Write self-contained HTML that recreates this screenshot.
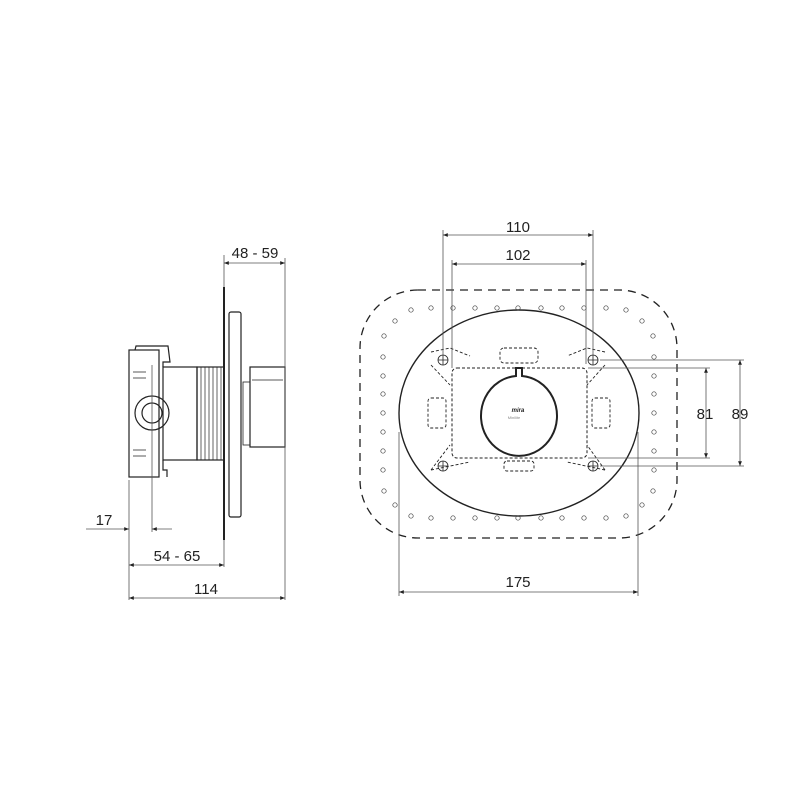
<!DOCTYPE html>
<html><head><meta charset="utf-8"><style>html,body{margin:0;background:#fff}svg{display:block}text{font-family:"Liberation Sans",sans-serif;font-size:15px;fill:#222}</style></head>
<body>
<svg width="800" height="800" viewBox="0 0 800 800" xmlns="http://www.w3.org/2000/svg">
<defs>
<marker id="a" viewBox="0 0 10 10" refX="10" refY="5" markerWidth="8" markerHeight="6" orient="auto-start-reverse"><path d="M0,1 L10,5 L0,9 z" fill="#222"/></marker>
</defs>
<g stroke="#222" fill="none">
<!-- LEFT VIEW -->
<g stroke-width="1.2">
<rect x="129" y="350" width="30" height="127" fill="#fff"/>
<path d="M135,350 L136,346 L168,346 L170,362 L163,362 L163,367"/>
<rect x="163" y="367" width="34" height="93"/>
<path d="M163,460 L163,470 L167,470 L167,477"/>
<rect x="197" y="367" width="27" height="93"/>
<path d="M201,367V460M205,367V460M209,367V460M213,367V460M217,367V460M221,367V460" stroke-width="0.7"/>
<line x1="224" y1="287" x2="224" y2="540" stroke-width="2"/>
<rect x="229" y="312" width="12" height="205" rx="2"/>
<rect x="243" y="382" width="7" height="63" stroke-width="0.8"/>
<rect x="250" y="367" width="35" height="80"/>
<line x1="252" y1="380" x2="283" y2="380" stroke-width="0.7"/>
<circle cx="152" cy="413" r="17"/>
<circle cx="152" cy="413" r="10"/>
<path d="M133,372H146M133,378H146M133,450H146M133,456H146" stroke-width="0.8"/>
</g>
<!-- left dims -->
<g stroke-width="0.8" stroke="#555">
<line x1="152" y1="365" x2="152" y2="532"/>
<line x1="129" y1="480" x2="129" y2="600"/>
<line x1="285" y1="258" x2="285" y2="600"/>
<line x1="224" y1="255" x2="224" y2="287"/>
<line x1="224" y1="540" x2="224" y2="567"/>
<line x1="224" y1="263" x2="285" y2="263" marker-start="url(#a)" marker-end="url(#a)"/>
<line x1="86" y1="529" x2="129" y2="529" marker-end="url(#a)"/>
<line x1="172" y1="529" x2="152" y2="529" marker-end="url(#a)"/>
<line x1="129" y1="565" x2="224" y2="565" marker-start="url(#a)" marker-end="url(#a)"/>
<line x1="129" y1="598" x2="285" y2="598" marker-start="url(#a)" marker-end="url(#a)"/>
</g>
<!-- RIGHT VIEW -->
<rect x="360" y="290" width="317" height="248" rx="58" stroke-dasharray="8,6" stroke-width="1.3"/>
<ellipse cx="519" cy="413" rx="120" ry="103" stroke-width="1.4"/>
<rect x="452" y="368" width="135" height="90" rx="5" stroke-dasharray="3,2" stroke-width="1"/>
<path d="M516,368 V376 A38,40 0 1 0 522,376 V368 Z" stroke-width="2"/>
<g stroke-dasharray="3,2" stroke-width="0.9">
<rect x="500" y="348" width="38" height="15" rx="4"/>
<rect x="504" y="461" width="30" height="10" rx="3"/>
<rect x="428" y="398" width="18" height="30" rx="3"/>
<rect x="592" y="398" width="18" height="30" rx="3"/>
<path d="M431,352 L450,348 L470,356 M431,365 L450,385 M431,470 L450,445 M431,470 L470,462"/>
<path d="M605,352 L587,348 L567,356 M605,365 L587,385 M605,470 L587,445 M605,470 L567,462"/>
</g>
<g stroke-width="0.8">
<circle cx="443" cy="360" r="5"/><path d="M438,360h10M443,355v10"/>
<circle cx="593" cy="360" r="5"/><path d="M588,360h10M593,355v10"/>
<circle cx="443" cy="466" r="5"/><path d="M438,466h10M443,461v10"/>
<circle cx="593" cy="466" r="5"/><path d="M588,466h10M593,461v10"/>
</g>
<g stroke-width="0.7" stroke="#444">
<circle cx="411" cy="310" r="2.2"/><circle cx="431" cy="308" r="2.2"/><circle cx="453" cy="308" r="2.2"/><circle cx="475" cy="308" r="2.2"/><circle cx="497" cy="308" r="2.2"/><circle cx="518" cy="308" r="2.2"/><circle cx="541" cy="308" r="2.2"/><circle cx="562" cy="308" r="2.2"/><circle cx="584" cy="308" r="2.2"/><circle cx="606" cy="308" r="2.2"/><circle cx="626" cy="310" r="2.2"/>
<circle cx="411" cy="516" r="2.2"/><circle cx="431" cy="518" r="2.2"/><circle cx="453" cy="518" r="2.2"/><circle cx="475" cy="518" r="2.2"/><circle cx="497" cy="518" r="2.2"/><circle cx="518" cy="518" r="2.2"/><circle cx="541" cy="518" r="2.2"/><circle cx="562" cy="518" r="2.2"/><circle cx="584" cy="518" r="2.2"/><circle cx="606" cy="518" r="2.2"/><circle cx="626" cy="516" r="2.2"/>
<circle cx="395" cy="321" r="2.2"/><circle cx="642" cy="321" r="2.2"/><circle cx="395" cy="505" r="2.2"/><circle cx="642" cy="505" r="2.2"/>
<circle cx="384" cy="336" r="2.2"/><circle cx="383" cy="357" r="2.2"/><circle cx="383" cy="376" r="2.2"/><circle cx="383" cy="394" r="2.2"/><circle cx="383" cy="413" r="2.2"/><circle cx="383" cy="432" r="2.2"/><circle cx="383" cy="451" r="2.2"/><circle cx="383" cy="470" r="2.2"/><circle cx="384" cy="491" r="2.2"/>
<circle cx="653" cy="336" r="2.2"/><circle cx="654" cy="357" r="2.2"/><circle cx="654" cy="376" r="2.2"/><circle cx="654" cy="394" r="2.2"/><circle cx="654" cy="413" r="2.2"/><circle cx="654" cy="432" r="2.2"/><circle cx="654" cy="451" r="2.2"/><circle cx="654" cy="470" r="2.2"/><circle cx="653" cy="491" r="2.2"/>
</g>
<!-- right dims -->
<g stroke-width="0.8" stroke="#555">
<line x1="443" y1="230" x2="443" y2="355"/>
<line x1="593" y1="230" x2="593" y2="355"/>
<line x1="452" y1="260" x2="452" y2="368"/>
<line x1="586" y1="260" x2="586" y2="364"/>
<line x1="443" y1="235" x2="593" y2="235" marker-start="url(#a)" marker-end="url(#a)"/>
<line x1="452" y1="264" x2="586" y2="264" marker-start="url(#a)" marker-end="url(#a)"/>
<line x1="399" y1="432" x2="399" y2="596"/>
<line x1="638" y1="432" x2="638" y2="596"/>
<line x1="399" y1="592" x2="638" y2="592" marker-start="url(#a)" marker-end="url(#a)"/>
<line x1="600" y1="360" x2="744" y2="360"/>
<line x1="588" y1="368" x2="710" y2="368"/>
<line x1="588" y1="458" x2="710" y2="458"/>
<line x1="600" y1="466" x2="744" y2="466"/>
<line x1="706" y1="368" x2="706" y2="458" marker-start="url(#a)" marker-end="url(#a)"/>
<line x1="740" y1="360" x2="740" y2="466" marker-start="url(#a)" marker-end="url(#a)"/>
</g>
</g>
<text x="255" y="258" text-anchor="middle">48 - 59</text>
<text x="104" y="525" text-anchor="middle">17</text>
<text x="177" y="561" text-anchor="middle">54 - 65</text>
<text x="206" y="594" text-anchor="middle">114</text>
<text x="518" y="232" text-anchor="middle">110</text>
<text x="518" y="260" text-anchor="middle">102</text>
<text x="518" y="587" text-anchor="middle">175</text>
<text x="705" y="419" text-anchor="middle">81</text>
<text x="740" y="419" text-anchor="middle">89</text>
<text x="518" y="412" text-anchor="middle" style="font-size:6px;font-weight:bold;font-style:italic">mira</text>
<text x="514" y="419" text-anchor="middle" style="font-size:4px;fill:#888">Minilite</text>
</svg>
</body></html>
